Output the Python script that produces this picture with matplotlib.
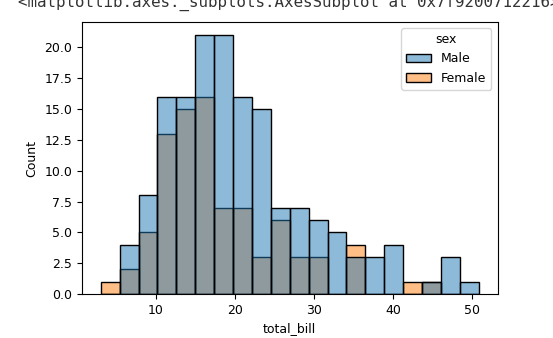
import matplotlib
matplotlib.use("Agg")
import matplotlib.pyplot as plt
import numpy as np
import pandas as pd
import seaborn as sns

# tips total_bill histogram, 20 common bins, counts
bin_lo, bin_hi, n_bins = 3.07, 50.81, 20
male_counts = [0, 4, 8, 16, 16, 21, 21, 16, 15, 7, 7, 6, 5, 3, 3, 4, 0, 1, 3, 1]
female_counts = [1, 2, 5, 13, 15, 16, 7, 7, 3, 6, 3, 3, 0, 4, 0, 0, 1, 1, 0, 0]
sex_levels = ["Male", "Female"]
header = "<matplotlib.axes._subplots.AxesSubplot at 0x7f9200712216>"

edges = np.linspace(bin_lo, bin_hi, n_bins + 1)
centers = (edges[:-1] + edges[1:]) / 2
df = pd.DataFrame({
    "total_bill": np.concatenate([centers, centers]),
    "count": male_counts + female_counts,
    "sex": [sex_levels[0]] * n_bins + [sex_levels[1]] * n_bins,
})

plt.rcParams["font.size"] = 9
fig = plt.figure(figsize=(5.53, 3.38), dpi=100)
ax = fig.add_axes([0.148, 0.130, 0.752, 0.805])

sns.histplot(data=df, x="total_bill", weights="count", hue="sex",
             hue_order=sex_levels, bins=n_bins, binrange=(bin_lo, bin_hi),
             ax=ax)
ax.set_ylabel("Count")
ax.set_xlabel("total_bill")

fig.text(18 / 553, 1 - 7 / 338, header, family="DejaVu Sans Mono",
         fontsize=11.4, color="#333333", va="baseline", ha="left")

fig.savefig("out.png", dpi=100)
